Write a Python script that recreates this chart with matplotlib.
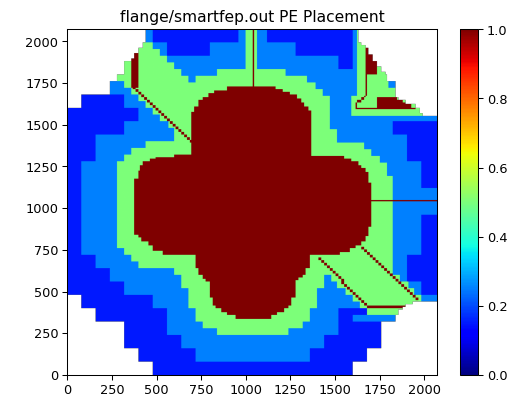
import numpy as np
import matplotlib
matplotlib.use("Agg")
import matplotlib.pyplot as plt

TITLE = "flange/smartfep.out PE Placement"
EXTENT = 2072
CELL = 8
DPI = 93
DARK, LIGHT, GREEN, RED = 0.15, 0.25, 0.5, 1.0

# step outlines: y edges and the x boundary inside each y interval
outer_left_y = [0,80,160,320,400,480,1600,1680,1760,1800,1880,1898,1928,1958,1992,2072]
outer_left_x = [480,400,320,160,80,0,80,240,280,320,360,378,400,425,440]
outer_right_y = [0,80,160,320,360,392,408,424,440,1552,1568,1600,1622,1648,1668,1760,1798,1818,1848,1878,1918,1958,1976,1992,2072]
outer_right_x = [1600,1680,1760,1840,1860,1880,1900,1936,2072,1992,1973,1950,1898,1860,1840,1795,1782,1758,1739,1715,1689,1670,1650,1632]

light_left_y = [80,160,240,400,480,560,640,720,1280,1440,1520,1600,1680,1760,2072]
light_left_x = [720,640,560,480,320,240,160,80,160,320,400,320,240,0]
light_right_y = [80,160,240,400,480,560,720,960,1120,1280,1440,1520,2072]
light_right_x = [1360,1440,1520,2072,1988,1908,1988,2072,1988,1908,1828,2072]

green_left_y = [240,280,320,400,520,600,640,684,724,764,1278,1318,1358,1398,1478,1518,1558,1598,1638,1678,1718,1762,1802,2072]
green_left_x = [840,760,720,680,640,600,400,360,320,280,320,360,440,602,565,518,481,440,399,360,320,280,320]
green_right_y = [240,280,320,400,520,600,1068,1190,1272,1312,1352,1392,1472,1672,1712,1752,1792,1832,2072]
green_right_x = [1240,1320,1360,1400,1440,1828,1828,1790,1749,1708,1668,1510,1469,1432,1389,1348,1227,1068]

green2_left_y = [360,400,440,480,520,560,600]
green2_left_x = [1678,1640,1600,1562,1516,1478]
green2_right_y = [360,440,480,520,560,600,640,680,760,840,1000,1068]
green2_right_x = [2072,1981,1948,1909,1866,1829,1790,1750,1790,1828,2072]

red_left_y = [340,360,380,400,420,464,560,580,600,640,724,744,780,800,824,844,1178,1228,1254,1278,1298,1308,1318,1574,1608,1648,1668,1688,1708,1728]
red_left_x = [941,900,861,835,816,798,780,757,738,720,540,480,458,420,397,378,397,406,425,462,500,602,700,714,738,760,789,826,900]
red_right_y = [340,360,380,400,420,464,570,586,600,640,720,740,760,780,800,830,890,1154,1218,1238,1258,1278,1298,1312,1588,1608,1634,1654,1678,1698,1712,1728]
red_right_x = [1143,1180,1217,1240,1260,1280,1300,1320,1338,1357,1529,1581,1618,1646,1670,1689,1708,1689,1670,1651,1633,1590,1549,1370,1351,1329,1311,1286,1249,1208,1167]

# extra rectangular runs: y0, y1, x0, x1
light_runs = [(320,360,1600,1840),(1992,2072,440,1000),(1952,1992,481,1000),(1912,1952,518,1000),
              (1872,1912,560,1000),(1832,1872,598,1000),(1792,1832,640,839),(1752,1792,677,720),
              (1720,1760,1800,1840)]
dark_runs = [(1992,2072,480,960),(1912,1992,560,800),(1992,2072,1120,1600),(1912,1992,1280,1600),(1832,1912,1520,1600),
             (320,400,1520,1600)]
green_runs = [(1554,1672,1590,2072),(1672,2072,1628,2072)]
red_runs = [(1718,1898,360,400),(1898,1928,378,400),(404,418,1683,1902),(1040,1048,1708,2072),(1728,2072,1040,1048),
            (1918,1958,1670,1689),(1878,1918,1670,1715),(1848,1878,1670,1739),(1802,1848,1674,1739),
            (1674,1802,1670,1678),(1662,1674,1665,1672),(1648,1662,1646,1665),(1634,1648,1628,1646),(1598,1634,1615,1628),
            (1594,1602,1615,1954),(1648,1662,1739,1851),(1634,1648,1739,1879),(1622,1634,1739,1898),(1598,1622,1739,1926)]
# diagonal staircases: x0, y0, x1, y1
red_stairs = [(373,1718,699,1404),(1404,720,1683,410),(1652,760,1963,450)]

n = EXTENT // CELL
grid = np.full((n, n), np.nan)
xc = (np.arange(n) + 0.5) * CELL
yc = (np.arange(n) + 0.5) * CELL


def edge(ys, xs, default):
    idx = np.searchsorted(ys, yc, side="right") - 1
    out = np.full(n, default, dtype=float)
    ok = (idx >= 0) & (idx < len(xs))
    out[ok] = np.asarray(xs, dtype=float)[idx[ok]]
    return out


def paint(level, ly, lx, ry, rx, masked=True):
    L = edge(ly, lx, 1e9)
    R = edge(ry, rx, -1e9)
    mask = (xc[None, :] >= L[:, None]) & (xc[None, :] < R[:, None])
    if masked:
        mask &= ~np.isnan(grid)
    grid[mask] = level


def runs(level, items):
    for y0, y1, x0, x1 in items:
        m = (yc[:, None] >= y0) & (yc[:, None] < y1) & (xc[None, :] >= x0) & (xc[None, :] < x1)
        m &= ~np.isnan(grid)
        grid[m] = level


paint(DARK, outer_left_y, outer_left_x, outer_right_y, outer_right_x, masked=False)
paint(LIGHT, light_left_y, light_left_x, light_right_y, light_right_x)
paint(GREEN, green_left_y, green_left_x, green_right_y, green_right_x)
paint(GREEN, green2_left_y, green2_left_x, green2_right_y, green2_right_x)
runs(GREEN, green_runs)
runs(LIGHT, light_runs)
runs(DARK, dark_runs)
paint(RED, red_left_y, red_left_x, red_right_y, red_right_x)
runs(RED, red_runs)
for x0, y0, x1, y1 in red_stairs:
    steps = int(round(abs(y1 - y0) / 16))
    for k in range(steps + 1):
        sx = x0 + (x1 - x0) * k / steps
        sy = y0 + (y1 - y0) * k / steps
        i0, j0 = int(sy // 16) * 2, int(sx // 16) * 2
        grid[i0:i0 + 2, j0:j0 + 2] = RED

fig = plt.figure(figsize=(513.2 / DPI, 399.2 / DPI), dpi=DPI)
ax = fig.add_axes([67.3 / 513, 1 - 375 / 399, 369.7 / 513, 345.5 / 399])
im = ax.imshow(grid, origin="lower", cmap="jet", vmin=0, vmax=1, extent=[0, EXTENT, 0, EXTENT],
               aspect="auto", interpolation="antialiased")
ax.set_xticks(range(0, 2001, 250))
ax.set_yticks(range(0, 2001, 250))
ax.set_title(TITLE)
cax = fig.add_axes([460 / 513, 1 - 375 / 399, 17.7 / 513, 345.5 / 399])
fig.colorbar(im, cax=cax)
fig.savefig("out.png", dpi=DPI)
